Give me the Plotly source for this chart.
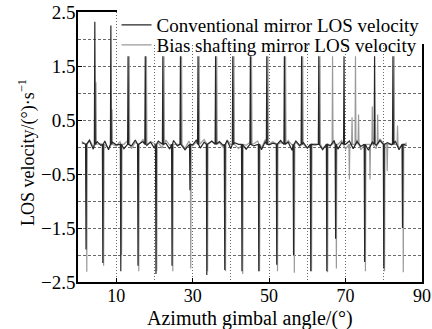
import plotly.graph_objects as go

# ---- data (angles in degrees, velocity in (°)/s) ----
base_angles = list(range(1, 87))

conv_base = [0.08, 0.02, 0.12, -0.04, 0.10, 0.03, 0.11, -0.05, 0.09, 0.04,
             0.12, -0.03, 0.08, 0.02, 0.13, -0.06, 0.10, 0.03, 0.09, -0.02,
             0.11, 0.05, 0.07, -0.04, 0.12, 0.02, 0.10, -0.05, 0.08, 0.04,
             0.13, -0.02, 0.09, 0.01, 0.11, -0.06, 0.10, 0.03, 0.12, -0.03,
             0.08, 0.05, 0.11, -0.04, 0.09, 0.02, 0.13, -0.05, 0.10, 0.04,
             0.07, -0.03, 0.12, 0.01, 0.09, -0.06, 0.11, 0.03, 0.08, -0.02,
             0.13, 0.04, 0.10, -0.05, 0.09, 0.02, 0.12, -0.04, 0.08, 0.05,
             0.11, -0.03, 0.10, 0.01, 0.14, -0.06, 0.09, 0.03, 0.12, -0.02,
             0.08, 0.04, 0.11, -0.05, 0.09, 0.03]

bias_base = [0.10, 0.04, 0.14, 0.00, 0.09, 0.06, 0.13, -0.02, 0.11, 0.02,
             0.10, 0.05, 0.12, -0.03, 0.09, 0.04, 0.14, -0.01, 0.10, 0.06,
             0.08, -0.02, 0.13, 0.03, 0.09, 0.05, 0.12, -0.03, 0.11, 0.02,
             0.09, 0.06, 0.14, -0.02, 0.10, 0.04, 0.08, -0.01, 0.13, 0.05,
             0.10, -0.03, 0.12, 0.03, 0.09, 0.06, 0.11, -0.02, 0.14, 0.02,
             0.10, 0.05, 0.08, -0.03, 0.12, 0.04, 0.09, 0.01, 0.13, -0.02,
             0.10, 0.06, 0.11, -0.03, 0.14, 0.03, 0.09, 0.05, 0.12, -0.04,
             0.16, 0.02, 0.13, -0.05, 0.17, 0.04, 0.11, -0.03, 0.15, 0.02,
             0.12, 0.06, 0.10, -0.02, 0.14, 0.08]

conv_spike_x = [2.1, 4.4, 6.5, 8.6, 11.2, 13.1, 15.7, 17.6, 20.4, 22.2,
                24.6, 26.8, 29.3, 31.4, 33.7, 36.0, 38.4, 40.5, 42.9, 45.1,
                47.3, 49.4, 52.0, 54.0, 56.4, 58.5, 60.9, 63.0, 65.1, 67.4,
                69.6, 75.0, 77.6, 80.0, 82.4, 84.9]
conv_spike_y = [-1.90, 2.32, -2.15, 2.25, -2.30, 1.68, -2.20, 1.68, -2.35, 1.68,
                -2.20, 1.68, -0.80, 1.68, -2.37, 1.68, -2.28, 1.68, -2.30, 1.68,
                -2.30, 1.68, -2.18, 1.68, -2.00, 1.68, -2.30, 1.68, -2.30, -1.70,
                1.68, -2.13, 1.68, -2.25, 1.68, -1.50]

bias_spike_x = [2.3, 4.7, 6.7, 8.9, 11.4, 13.4, 15.9, 17.9, 20.6, 22.5,
                24.8, 27.1, 29.5, 31.7, 33.9, 36.3, 38.6, 40.8, 43.1, 45.4,
                47.5, 49.7, 52.2, 54.3, 56.6, 58.8, 61.1, 63.3, 65.3, 66.6,
                67.6, 71.0, 71.7, 72.6, 73.4, 75.2, 76.4, 77.0, 78.4, 80.2,
                80.9, 82.7, 83.6, 85.1]
bias_spike_y = [-2.31, 1.20, -2.20, 0.70, -2.00, 1.68, -2.30, 1.68, -2.30, 1.68,
                -2.30, 1.68, -2.25, 1.68, -2.30, 1.68, -2.30, 1.68, -2.35, 1.68,
                -2.30, 1.68, -2.30, 1.68, -2.33, 1.68, -2.30, 1.68, -2.32, 1.68,
                -2.25, -0.60, 0.55, 1.68, 0.60, -2.30, -0.60, 0.75, 0.60, -2.30,
                -0.45, 1.68, 0.40, -2.32]

x_ticks = [10, 30, 50, 70, 90]
y_ticks = [-2.5, -1.5, -0.5, 0.5, 1.5, 2.5]
y_tick_text = ["−2.5", "−1.5", "−0.5", "0.5", "1.5", "2.5"]
x_title = "Azimuth gimbal angle/(°)"
y_title = "LOS velocity/(°)·s<sup>−1</sup>"


def build(bx, by, sx, sy, lead=0.12):
    pts = [(x, y) for x, y in zip(bx, by)
           if all(abs(x - s) > 0.35 for s in sx)]
    for s, v in zip(sx, sy):
        pts += [(s - lead, 0.05), (s, v), (s + lead, 0.05)]
    pts.sort()
    return [p[0] for p in pts], [p[1] for p in pts]


cx, cy = build(base_angles, conv_base, conv_spike_x, conv_spike_y)
bx, by = build(base_angles, bias_base, bias_spike_x, bias_spike_y)

font_family = "Liberation Serif, Times New Roman, serif"
grid_col = "#6a6a6a"

fig = go.Figure()
fig.add_trace(go.Scatter(x=bx, y=by, mode="lines",
                         name="Bias shafting mirror LOS velocity",
                         line=dict(color="#9a9a9a", width=1.2), legend="legend2"))
fig.add_trace(go.Scatter(x=cx, y=cy, mode="lines",
                         name="Conventional mirror LOS velocity",
                         line=dict(color="#262626", width=1.2), legend="legend"))

leg_common = dict(xanchor="left", yanchor="middle",
                  borderwidth=0, font=dict(size=19), itemwidth=30)

fig.update_layout(
    width=432, height=329,
    margin=dict(l=78, r=10, t=12, b=47, autoexpand=False),
    paper_bgcolor="white", plot_bgcolor="white",
    font=dict(family=font_family, size=19, color="black"),
    showlegend=True,
    legend=dict(x=0.112, y=1 - 13 / 270, bgcolor="white", **leg_common),
    legend2=dict(x=0.112, y=1 - 33 / 270, bgcolor="rgba(255,255,255,0)",
                 **leg_common),
    xaxis=dict(range=[0, 90], tickvals=x_ticks, tickfont=dict(size=18),
               ticklabelstandoff=-3,
               ticks="inside", ticklen=4, tickcolor="black",
               showline=True, linecolor="black", linewidth=1.5, mirror=True,
               showgrid=False, zeroline=False,
               minor=dict(dtick=10, tick0=0, showgrid=True, gridcolor=grid_col,
                          griddash="1px,2px", gridwidth=1, ticks="")),
    yaxis=dict(range=[-2.5, 2.5], tickvals=y_ticks, ticktext=y_tick_text,
               tickfont=dict(size=19), ticklabelstandoff=-3,
               ticks="inside", ticklen=4, tickcolor="black",
               showline=True, linecolor="black", linewidth=1.5, mirror=True,
               showgrid=True, gridcolor=grid_col, griddash="3px,2px", gridwidth=1,
               zeroline=False,
               minor=dict(dtick=0.5, tick0=0, showgrid=True, gridcolor=grid_col,
                          griddash="3px,2px", gridwidth=1, ticks="")),
    annotations=[
        dict(text=x_title, xref="paper", yref="paper", x=0.5,
             y=-(318.5 - 282) / 270, xanchor="center", yanchor="middle",
             showarrow=False, font=dict(size=20)),
        dict(text=y_title, xref="paper", yref="paper", x=(27 - 78) / 344,
             y=(282 - 152) / 270, xanchor="center", yanchor="middle",
             textangle=-90, showarrow=False, font=dict(size=18)),
    ],
)

fig.write_html("out.html")
